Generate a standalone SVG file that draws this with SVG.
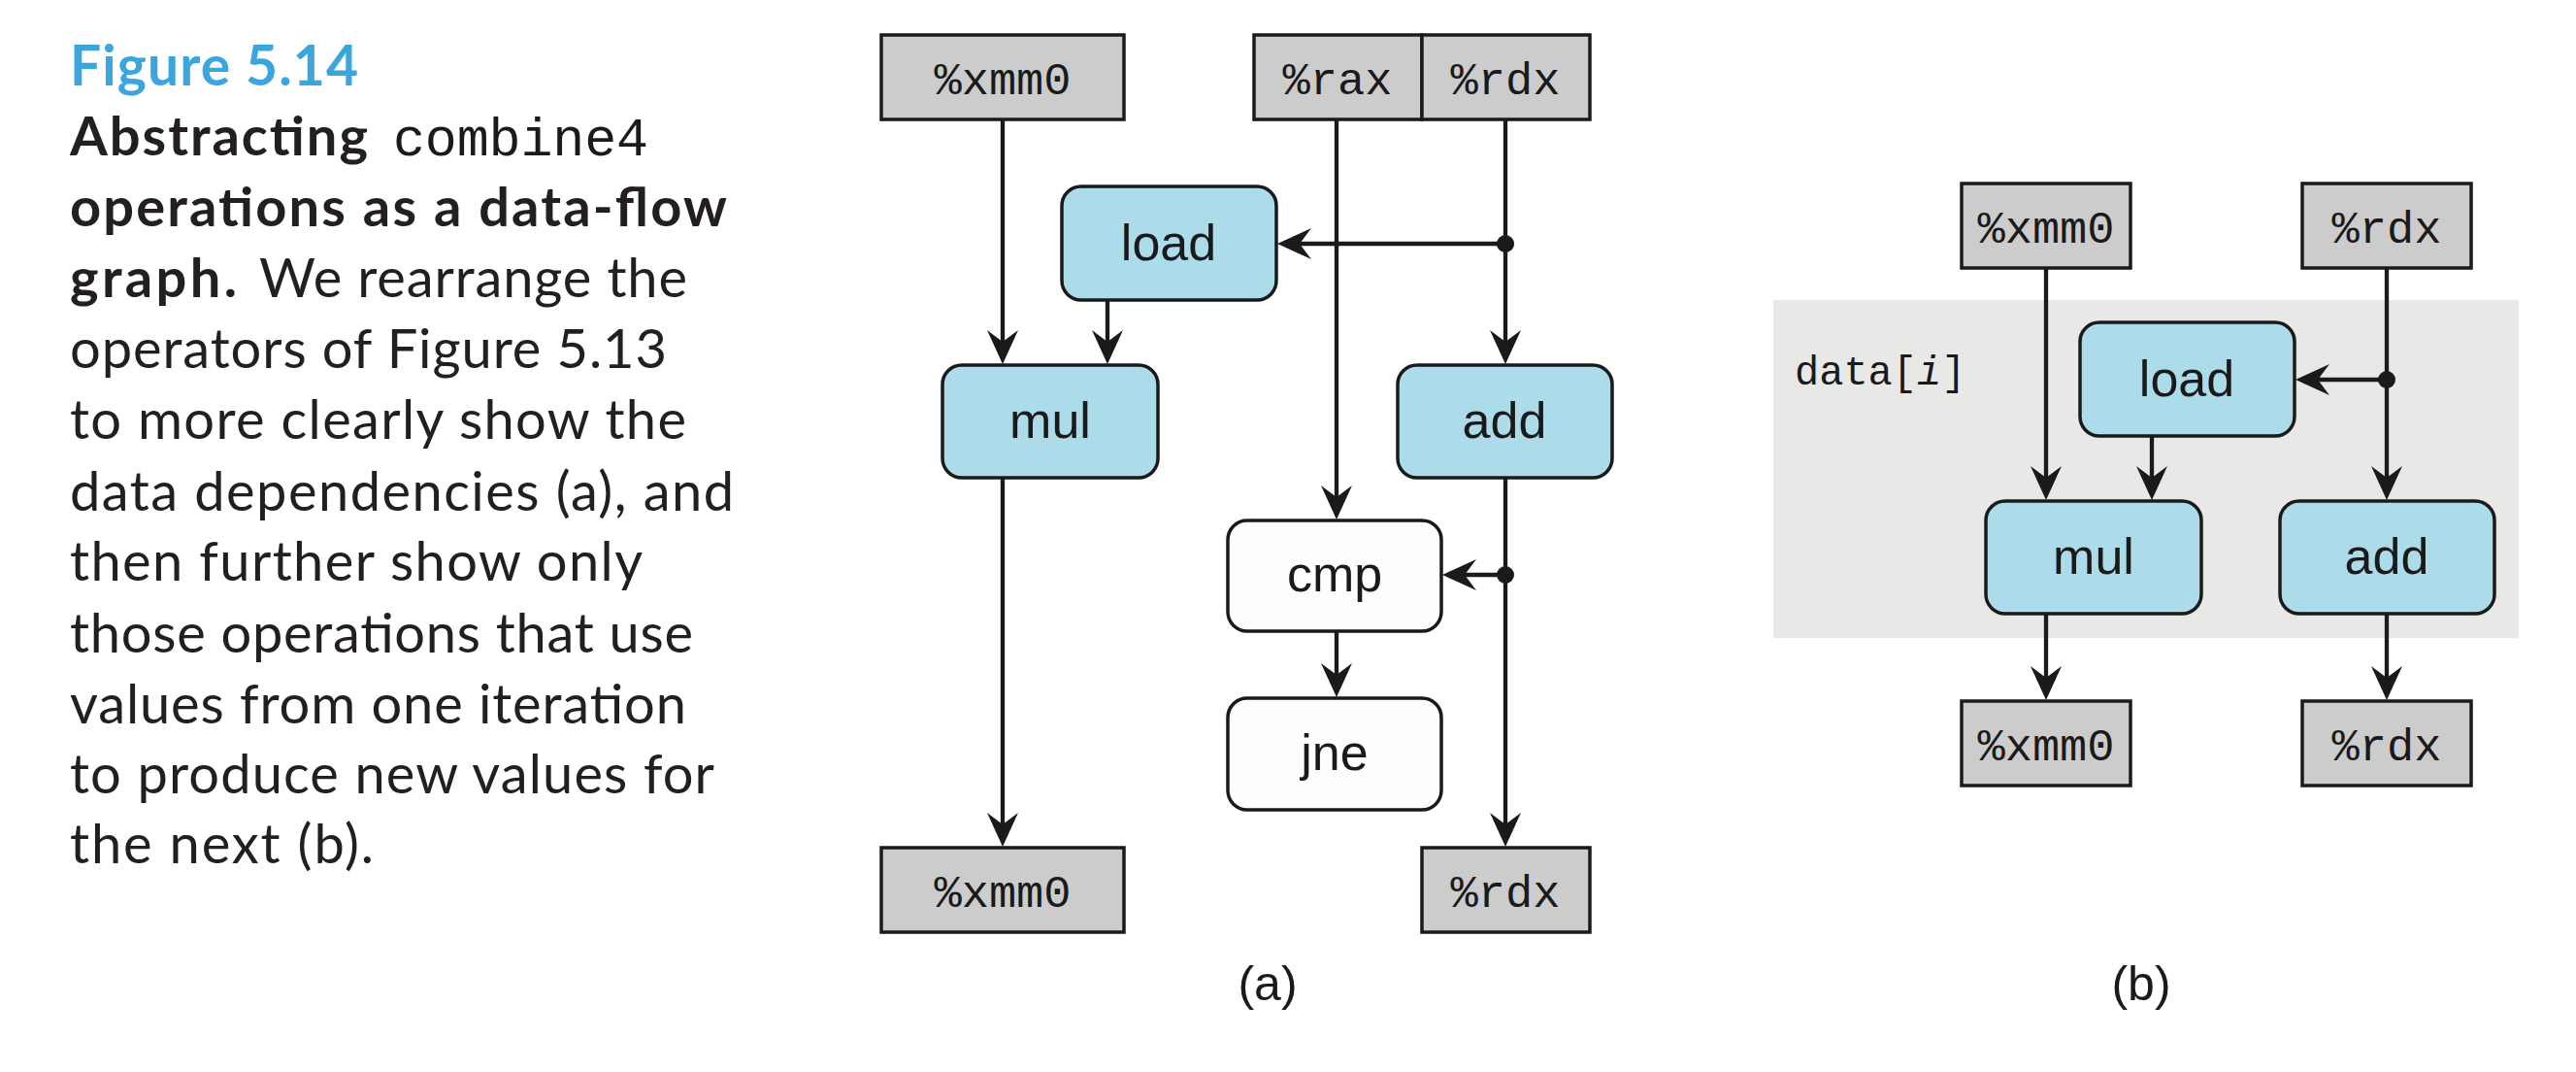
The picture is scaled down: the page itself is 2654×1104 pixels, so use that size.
<svg xmlns="http://www.w3.org/2000/svg" width="2654" height="1104" viewBox="0 0 2654 1104">
<style>
.cap{font-family:Lato,"Open Sans","Liberation Sans",sans-serif;font-size:56px;fill:#231f20}
.capb{font-weight:700}
.title{font-family:Lato,"Open Sans","Liberation Sans",sans-serif;font-size:57px;font-weight:700;fill:#3aa6dd}
.mono{font-family:"Liberation Mono","DejaVu Sans Mono",monospace;fill:#1a1a1a}
.reg{fill:#cccccc;stroke:#1a1a1a;stroke-width:3.5}
.reglbl{font-family:"Liberation Mono","DejaVu Sans Mono",monospace;font-size:47px;fill:#1a1a1a;text-anchor:middle}
.op{fill:#acdcea;stroke:#1a1a1a;stroke-width:3.5}
.opw{fill:#fdfdfb;stroke:#1a1a1a;stroke-width:3.5}
.oplbl{font-family:"Liberation Sans",Arial,sans-serif;font-size:52px;fill:#1a1a1a;text-anchor:middle}
.sub{font-family:"Liberation Sans",Arial,sans-serif;font-size:50px;fill:#1a1a1a;text-anchor:middle}
.edge{fill:none;stroke:#1a1a1a;stroke-width:4.3}
.dot{fill:#1a1a1a}
</style>
<defs>
<marker id="arr" viewBox="-18 -18 44 36" refX="0" refY="0" markerWidth="44" markerHeight="36" markerUnits="userSpaceOnUse" orient="auto">
<path d="M20,0 L-15,-16 L-3,0 L-15,16 Z" fill="#1a1a1a"/>
</marker>
</defs>
<rect width="2654" height="1104" fill="#ffffff"/>

<g id="caption">
<text class="title" x="72" y="88" textLength="297">Figure 5.14</text>
<text class="cap capb" x="72" y="160" textLength="307">Abstracting</text>
<text class="mono" x="405" y="160" font-size="55" textLength="263">combine4</text>
<text class="cap capb" x="72" y="233" textLength="677">operations as a data-flow</text>
<text class="cap capb" x="72" y="306" textLength="172">graph.</text>
<text class="cap" x="267" y="306" textLength="441">We rearrange the</text>
<text class="cap" x="72" y="379" textLength="615">operators of Figure 5.13</text>
<text class="cap" x="72" y="452" textLength="635">to more clearly show the</text>
<text class="cap" x="72" y="526" textLength="684">data dependencies (a), and</text>
<text class="cap" x="72" y="598" textLength="590">then further show only</text>
<text class="cap" x="72" y="672" textLength="642">those operations that use</text>
<text class="cap" x="72" y="745" textLength="635">values from one iteration</text>
<text class="cap" x="72" y="817" textLength="664">to produce new values for</text>
<text class="cap" x="72" y="889" textLength="313">the next (b).</text>
</g>

<g id="panel-b-bg"><rect x="1827" y="309" width="768" height="348" fill="#e8e8e6"/></g>

<g id="connectors">
<!-- (a) -->
<path class="edge" d="M1033,123 V355" marker-end="url(#arr)"/>
<path class="edge" d="M1377,123 V515" marker-end="url(#arr)"/>
<path class="edge" d="M1551,123 V355" marker-end="url(#arr)"/>
<path class="edge" d="M1551,251 H1336" marker-end="url(#arr)"/>
<path class="edge" d="M1141,309 V355" marker-end="url(#arr)"/>
<path class="edge" d="M1033,492 V852" marker-end="url(#arr)"/>
<path class="edge" d="M1551,492 V852" marker-end="url(#arr)"/>
<path class="edge" d="M1551,592 H1506" marker-end="url(#arr)"/>
<path class="edge" d="M1377,650 V698" marker-end="url(#arr)"/>
<circle class="dot" cx="1551" cy="251" r="9"/>
<circle class="dot" cx="1551" cy="592" r="9"/>
<!-- (b) -->
<path class="edge" d="M2108,276 V495" marker-end="url(#arr)"/>
<path class="edge" d="M2459,276 V495" marker-end="url(#arr)"/>
<path class="edge" d="M2459,391 H2385" marker-end="url(#arr)"/>
<path class="edge" d="M2217,449 V495" marker-end="url(#arr)"/>
<path class="edge" d="M2108,632 V701" marker-end="url(#arr)"/>
<path class="edge" d="M2459,632 V701" marker-end="url(#arr)"/>
<circle class="dot" cx="2459" cy="391" r="9"/>
</g>

<g id="a-xmm0-in"><rect class="reg" x="908" y="36" width="250" height="87"/><text class="reglbl" x="1033" y="97">%xmm0</text></g>
<g id="a-rax-in"><rect class="reg" x="1292" y="36" width="173" height="87"/><text class="reglbl" x="1378" y="97">%rax</text></g>
<g id="a-rdx-in"><rect class="reg" x="1465" y="36" width="173" height="87"/><text class="reglbl" x="1551" y="97">%rdx</text></g>
<g id="a-load"><rect class="op" x="1094" y="192" width="221" height="117" rx="20"/><text class="oplbl" x="1204" y="268">load</text></g>
<g id="a-mul"><rect class="op" x="971" y="376" width="222" height="116" rx="20"/><text class="oplbl" x="1082" y="451">mul</text></g>
<g id="a-add"><rect class="op" x="1440" y="376" width="221" height="116" rx="20"/><text class="oplbl" x="1550" y="451">add</text></g>
<g id="a-cmp"><rect class="opw" x="1265" y="536" width="220" height="114" rx="20"/><text class="oplbl" x="1375" y="609">cmp</text></g>
<g id="a-jne"><rect class="opw" x="1265" y="719" width="220" height="115" rx="20"/><text class="oplbl" x="1375" y="793">jne</text></g>
<g id="a-xmm0-out"><rect class="reg" x="908" y="873" width="250" height="87"/><text class="reglbl" x="1033" y="934">%xmm0</text></g>
<g id="a-rdx-out"><rect class="reg" x="1465" y="873" width="173" height="87"/><text class="reglbl" x="1551" y="934">%rdx</text></g>
<g id="a-label"><text class="sub" x="1306" y="1030">(a)</text></g>

<g id="b-data-label"><text class="mono" x="1849" y="396" font-size="42">data[<tspan font-style="italic">i</tspan>]</text></g>
<g id="b-xmm0-in"><rect class="reg" x="2021" y="189" width="174" height="87"/><text class="reglbl" x="2108" y="250">%xmm0</text></g>
<g id="b-rdx-in"><rect class="reg" x="2372" y="189" width="174" height="87"/><text class="reglbl" x="2459" y="250">%rdx</text></g>
<g id="b-load"><rect class="op" x="2143" y="332" width="221" height="117" rx="20"/><text class="oplbl" x="2253" y="408">load</text></g>
<g id="b-mul"><rect class="op" x="2046" y="516" width="222" height="116" rx="20"/><text class="oplbl" x="2157" y="591">mul</text></g>
<g id="b-add"><rect class="op" x="2349" y="516" width="221" height="116" rx="20"/><text class="oplbl" x="2459" y="591">add</text></g>
<g id="b-xmm0-out"><rect class="reg" x="2021" y="722" width="174" height="87"/><text class="reglbl" x="2108" y="783">%xmm0</text></g>
<g id="b-rdx-out"><rect class="reg" x="2372" y="722" width="174" height="87"/><text class="reglbl" x="2459" y="783">%rdx</text></g>
<g id="b-label"><text class="sub" x="2206" y="1030">(b)</text></g>
</svg>
